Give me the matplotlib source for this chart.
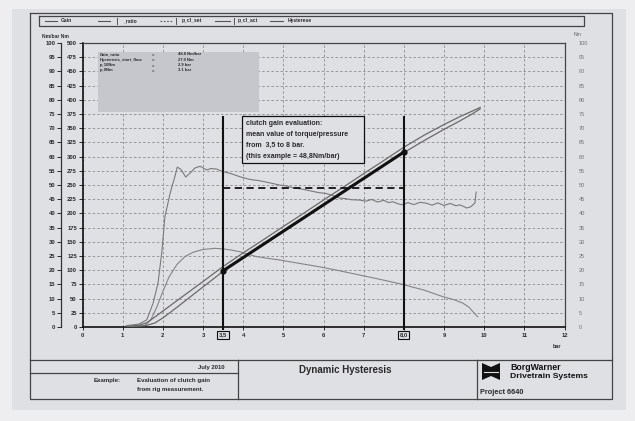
import matplotlib
matplotlib.use('Agg')
import matplotlib.pyplot as plt
from matplotlib.patches import Rectangle, Polygon

W, H = 635, 421

# ---------------- data ----------------
ratio_p = [1.10, 1.40, 1.60, 1.76, 1.88, 1.98, 2.05, 2.18, 2.30, 2.36, 2.45, 2.57, 2.70, 2.80,
           2.93, 3.09, 3.20, 3.34, 3.50, 3.70, 3.92, 4.15, 4.41, 4.65, 4.90, 5.10, 5.24, 5.45,
           5.65, 5.85, 6.07, 6.25, 6.40, 6.55, 6.70, 6.90, 7.05, 7.20, 7.35, 7.50, 7.62, 7.73,
           7.85, 7.97, 8.10, 8.25, 8.40, 8.56, 8.70, 8.85, 9.00, 9.15, 9.30, 9.39, 9.50, 9.56,
           9.66, 9.72, 9.77, 9.80]
ratio_v = [0.5, 1.0, 2.5, 8.5, 15.5, 27.0, 38.7, 47.0, 53.0, 56.3, 55.5, 52.8, 54.5, 56.0,
           56.6, 55.3, 55.8, 55.6, 54.7, 54.0, 52.9, 52.0, 51.5, 50.8, 50.0, 49.6, 49.0, 48.6,
           48.0, 47.4, 47.0, 46.2, 45.4, 45.2, 44.8, 44.7, 44.3, 44.9, 44.0, 44.6, 43.8, 44.1,
           43.4, 43.0, 43.8, 43.1, 43.9, 43.6, 42.9, 43.7, 42.8, 43.5, 42.7, 43.0, 42.4, 41.9,
           42.3, 43.0, 43.7, 47.5]

torque_a_p = [1.10, 1.40, 1.60, 1.80, 2.00, 2.20, 2.43, 2.70, 3.00, 3.50, 4.00, 4.50, 5.00,
              5.50, 6.00, 6.50, 7.00, 7.50, 8.00, 8.50, 9.00, 9.40, 9.70, 9.90]
torque_a_v = [0.2, 0.6, 1.5, 3.5, 5.6, 7.7, 10.1, 12.9, 16.0, 21.3, 26.1, 30.7, 35.4,
              40.0, 44.7, 49.3, 54.0, 58.6, 63.3, 67.5, 71.3, 74.1, 76.0, 77.3]

torque_b_p = [1.10, 1.40, 1.60, 1.80, 2.00, 2.20, 2.43, 2.70, 3.00, 3.50, 4.00, 4.50, 5.00,
              5.50, 6.00, 6.50, 7.00, 7.50, 8.00, 8.50, 9.00, 9.40, 9.70, 9.90]
torque_b_v = [0.1, 0.3, 0.6, 1.4, 3.2, 5.3, 7.8, 10.8, 14.1, 19.6, 24.3, 28.9, 33.6,
              38.2, 42.9, 47.5, 52.2, 56.8, 61.4, 65.6, 69.6, 72.6, 75.0, 76.8]

hyst_p = [1.55, 1.70, 1.85, 2.00, 2.15, 2.35, 2.55, 2.75, 3.00, 3.30, 3.50, 3.70, 3.92, 4.10,
          4.33, 4.60, 4.91, 5.40, 5.90, 6.40, 6.90, 7.40, 7.97, 8.50, 8.97, 9.25, 9.47, 9.62,
          9.72, 9.80, 9.84]
hyst_v = [0.5, 2.5, 7.0, 12.5, 17.5, 22.0, 24.8, 26.3, 27.3, 27.7, 27.5, 27.1, 26.5, 25.7,
          24.8, 24.2, 23.6, 22.4, 21.2, 19.8, 18.3, 16.8, 15.0, 13.0, 10.7, 9.6, 8.4, 7.0,
          5.4, 4.2, 3.6]

eval_p = [3.5, 8.0]
eval_v = [19.8, 61.6]
eval_labels = ["3,5", "8,0"]
mean_gain = 48.9

x_ticks = list(range(0, 13))
x_tick_labels = ["0", "1", "2", "3", "4", "5", "6", "7", "", "9", "10", "11", "12"]
left_outer_ticks = list(range(0, 101, 5))
left_inner_labels = [str(v) for v in range(0, 501, 25)]
right_ticks = list(range(0, 101, 5))

info_names = ["Gain_ratio", "Hysteresis_start_flow", "p_10Nm", "p_0Nm"]
info_values = ["48.8 Nm/bar", "27.0 Nm", "2.9 bar", "3.1 bar"]
legend_labels = ["Gain", "_ratio", "p_cl_set", "p_cl_act", "Hysterese"]
annot_lines = ["clutch gain evaluation:", "mean value of torque/pressure",
               "from  3,5 to 8 bar.", "(this example = 48,8Nm/bar)"]

# ---------------- figure ----------------
PAGE = '#dfe0e4'
INK = '#2a2a2a'
fig = plt.figure(figsize=(W / 100, H / 100), dpi=100)
fig.patch.set_facecolor('#eeeef0')
plt.rcParams['font.family'] = ['Liberation Sans', 'DejaVu Sans']

ov = fig.add_axes([0, 0, 1, 1], zorder=0)
ov.set_xlim(0, W)
ov.set_ylim(H, 0)
ov.axis('off')
ov.add_patch(Rectangle((12, 9), 614, 401, facecolor=PAGE, edgecolor='none'))

fl = dict(color='#444444', lw=0.9)
# outer frame
ov.plot([30, 612, 612, 30, 30], [13, 13, 399, 399, 13], **fl)
# legend bar
ov.plot([39, 584, 584, 39, 39], [16, 16, 25.5, 25.5, 16], **fl)
samples = [(45, 57, '-'), (98, 110, '-'), (160, 172, (0, (1.5, 1.5))), (215, 230, '-'), (270, 283, '-')]
lab_x = [61, 123, 182, 238, 288]
for (a, b, ls), lx, lab in zip(samples, lab_x, legend_labels):
    ov.plot([a, b], [20.7, 20.7], color='#555555', lw=0.8, ls=ls)
    ov.text(lx, 20.7, lab, fontsize=3.6, fontweight='bold', color=INK, va='center', ha='left')
for sx in [117, 176, 234]:
    ov.plot([sx, sx], [18, 23.5], color='#555555', lw=0.7)

# title block
ov.plot([30, 612], [360, 360], **fl)
ov.plot([238, 238], [360, 399], **fl)
ov.plot([477, 477], [360, 399], **fl)
ov.plot([30, 238], [373, 373], **fl)
ov.text(225, 367, "July 2010", fontsize=4.2, fontweight='bold', ha='right', va='center', color=INK)
ov.text(94, 380.5, "Example:", fontsize=4.4, fontweight='bold', ha='left', va='center', color=INK)
ov.text(137, 380.5, "Evaluation of clutch gain", fontsize=4.4, fontweight='bold', ha='left', va='center', color=INK)
ov.text(137, 389.5, "from rig measurement.", fontsize=4.4, fontweight='bold', ha='left', va='center', color=INK)
ov.text(345, 370, "Dynamic Hysteresis", fontsize=7, fontweight='bold', ha='center', va='center', color=INK)
ov.add_patch(Polygon([(482, 363), (491, 367), (500, 363), (500, 380), (491, 376), (482, 380)],
                     closed=True, facecolor='#111111', edgecolor='none'))
ov.plot([484, 498], [371.5, 371.5], color=PAGE, lw=0.8)
ov.text(510, 367, "BorgWarner", fontsize=6.3, fontweight='bold', ha='left', va='center', color='#111111')
ov.text(510, 376, "Drivetrain Systems", fontsize=6.1, fontweight='bold', ha='left', va='center', color='#111111')
ov.text(480, 393, "Project 6640", fontsize=5.3, fontweight='bold', ha='left', va='center', color=INK)

# axis unit labels
ov.text(42, 36, "Nm/bar Nm", fontsize=3.6, fontweight='bold', ha='left', va='center', color=INK)
ov.text(578, 34, "Nm", fontsize=3.6, ha='center', va='center', color='#666666')
ov.text(557, 347, "bar", fontsize=4, fontweight='bold', ha='center', va='center', color=INK)

# ---------------- main chart ----------------
x0, x1, y0, y1 = 82.5, 564.5, 327, 43
ax = fig.add_axes([x0 / W, (H - y0) / H, (x1 - x0) / W, (y0 - y1) / H], zorder=2)
ax.patch.set_alpha(0)
ax.set_xlim(0, 12)
ax.set_ylim(0, 100)
ax.set_xticks(x_ticks, labels=x_tick_labels)
ax.set_yticks(left_outer_ticks, labels=left_inner_labels)
ax.grid(True, color='#8c8c8c', ls=(0, (3, 2.5)), lw=0.6)
ax.set_axisbelow(True)
for s in ['left', 'bottom']:
    ax.spines[s].set_color('#111111')
    ax.spines[s].set_linewidth(1.2)
for s in ['top', 'right']:
    ax.spines[s].set_color('#444444')
    ax.spines[s].set_linewidth(0.9)
ax.tick_params(axis='y', direction='out', length=3, width=0.7, pad=1, labelsize=4.2, colors=INK)
ax.tick_params(axis='x', direction='out', length=2.5, width=0.7, pad=2, labelsize=4.2, colors=INK)
for t in ax.get_xticklabels() + ax.get_yticklabels():
    t.set_fontweight('bold')

sec = ax.secondary_yaxis(-21.5 / (x1 - x0))
sec.set_yticks(left_outer_ticks)
sec.spines['left'].set_color('#333333')
sec.spines['left'].set_linewidth(0.9)
sec.tick_params(direction='out', length=3, width=0.7, pad=1, labelsize=4.2, colors=INK)
for t in sec.get_yticklabels():
    t.set_fontweight('bold')

rsec = ax.secondary_yaxis('right')
rsec.set_yticks(right_ticks)
rsec.spines['right'].set_visible(False)
rsec.tick_params(direction='in', length=0, pad=10, labelsize=4.0, colors='#707070')

# curves
ax.plot(ratio_p, ratio_v, color='#7a7a7a', lw=0.8, zorder=3)
ax.plot(hyst_p, hyst_v, color='#858585', lw=0.8, zorder=3)
ax.plot(torque_a_p, torque_a_v, color='#6a6a6a', lw=0.9, zorder=3)
ax.plot(torque_b_p, torque_b_v, color='#6a6a6a', lw=0.9, zorder=3)

# evaluation marks
ax.vlines(eval_p, -1, 74.3, colors='#111111', lw=1.5, zorder=5, clip_on=False)
ax.plot(eval_p, eval_v, color='#111111', lw=2.2, marker='o', ms=3.5, zorder=6)
ax.hlines(mean_gain, eval_p[0], eval_p[1], colors='#111111', linestyles=(0, (4, 2.5)), lw=1.3, zorder=5)
for xp, lab in zip(eval_p, eval_labels):
    ax.text(xp, -2.8, lab, fontsize=4.2, fontweight='bold', ha='center', va='center', color=INK,
            clip_on=False, zorder=6,
            bbox=dict(boxstyle='square,pad=0.25', facecolor=PAGE, edgecolor='#111111', lw=0.8))

# info box
ax.add_patch(Rectangle((0.39, 75.7), 4.0, 21.1, facecolor='#c6c7cd', edgecolor='none', zorder=4))
for i, (nm, vl) in enumerate(zip(info_names, info_values)):
    yy = 96.0 - i * 1.85
    ax.text(0.435, yy, nm, fontsize=3.0, fontweight='bold', va='center', ha='left', color=INK, zorder=5)
    ax.text(1.73, yy, "=", fontsize=3.0, fontweight='bold', va='center', ha='left', color=INK, zorder=5)
    ax.text(2.38, yy, vl, fontsize=3.0, fontweight='bold', va='center', ha='left', color=INK, zorder=5)

# annotation box
ax.add_patch(Rectangle((3.96, 57.9), 3.04, 16.4, facecolor=PAGE, edgecolor='#111111', lw=0.9, zorder=6))
for i, line in enumerate(annot_lines):
    ax.text(4.07, 71.7 - i * 3.85, line, fontsize=5, fontweight='bold', va='center', ha='left',
            color=INK, zorder=7)

fig.savefig('out.png', dpi=100, facecolor=fig.get_facecolor())
